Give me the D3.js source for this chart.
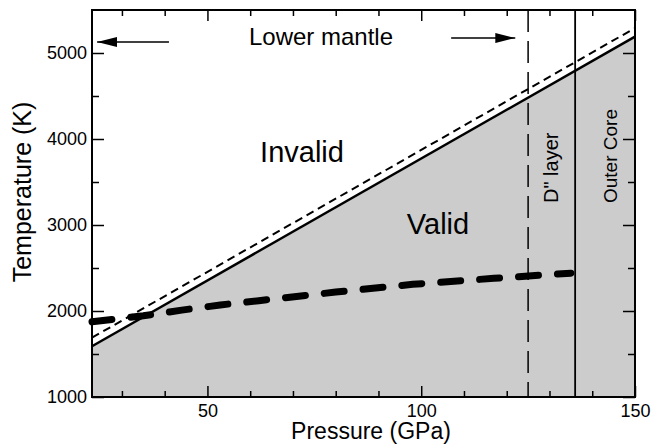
<!DOCTYPE html>
<html>
<head>
<meta charset="utf-8">
<script src="https://cdn.jsdelivr.net/npm/d3@7"></script>
<style>
    body { margin: 0; background: #fff; }
    svg text { font-family: "Liberation Sans", Arial, sans-serif; fill: #000; }
</style>
</head>
<body>
<svg id="chart"></svg>
<script>
// melting curve (solid) and its upper bound (thin dashed)
const meltP = [23, 150];
const meltT = [1590, 5190];
const meltUpperP = [23, 150];
const meltUpperT = [1690, 5290];

// geotherm (thick dashed)
const geoP = [23, 35, 44, 53, 62, 80, 98, 117, 135];
const geoT = [1875, 1945, 2010, 2070, 2120, 2220, 2310, 2380, 2440];

// boundaries
const dLayerP = 125;
const coreP = 136;

// ticks
const xMajor = [50, 100, 150];
const xMinor = [30, 40, 60, 70, 80, 90, 110, 120, 130, 140];
const yMajor = [1000, 2000, 3000, 4000, 5000];
const yMinor = [1500, 2500, 3500, 4500];

// arrows for "Lower mantle" [fromP, toP, T]
const leftArrow = [41, 24.2, 5128];
const rightArrow = [107, 122, 5174];

var w = 651;
var h = 444;
let margin = ({ top: 10, right: 16, bottom: 47, left: 92 });

var svg = d3.select("#chart")
    .attr("width", w)
    .attr("height", h);

var xScale = d3.scaleLinear()
    .domain([23, 150])
    .range([margin.left, w - margin.right]);

var yScale = d3.scaleLinear()
    .domain([1000, 5500])
    .range([h - margin.bottom, margin.top]);

svg.append("defs").append("marker")
    .attr("id", "head")
    .attr("viewBox", "0 0 20 10")
    .attr("refX", 20)
    .attr("refY", 5)
    .attr("markerUnits", "userSpaceOnUse")
    .attr("markerWidth", 20)
    .attr("markerHeight", 10)
    .attr("orient", "auto")
    .append("path")
    .attr("d", "M0,0 L20,5 L0,10 Z")
    .attr("fill", "#000");

const chart = svg.append("g");

var meltData = meltP.map((p, i) => [p, meltT[i]]);
var upperData = meltUpperP.map((p, i) => [p, meltUpperT[i]]);
var geoData = geoP.map((p, i) => [p, geoT[i]]);

// shaded "valid" area below melting curve
chart.append("path")
    .datum(meltData)
    .attr("fill", "#cccccc")
    .attr("d", d3.area()
        .x(d => xScale(d[0]))
        .y0(yScale(1000))
        .y1(d => yScale(d[1])));

var line = d3.line()
    .x(d => xScale(d[0]))
    .y(d => yScale(d[1]));

// D'' boundary and core-mantle boundary
chart.append("line")
    .attr("x1", xScale(dLayerP)).attr("x2", xScale(dLayerP))
    .attr("y1", yScale(5500)).attr("y2", yScale(1000))
    .attr("stroke", "#000")
    .attr("stroke-width", 1.5)
    .attr("stroke-dasharray", "22 9");

chart.append("line")
    .attr("x1", xScale(coreP)).attr("x2", xScale(coreP))
    .attr("y1", yScale(5500)).attr("y2", yScale(1000))
    .attr("stroke", "#000")
    .attr("stroke-width", 1.8);

chart.append("path")
    .datum(upperData)
    .attr("fill", "none")
    .attr("stroke", "#000")
    .attr("stroke-width", 2)
    .attr("stroke-dasharray", "8 5")
    .attr("d", line);

chart.append("path")
    .datum(meltData)
    .attr("fill", "none")
    .attr("stroke", "#000")
    .attr("stroke-width", 2.5)
    .attr("d", line);

chart.append("path")
    .datum(geoData)
    .attr("fill", "none")
    .attr("stroke", "#000")
    .attr("stroke-width", 7)
    .attr("stroke-linecap", "round")
    .attr("stroke-dasharray", "20 19")
    .attr("d", line);

// arrows
[leftArrow, rightArrow].forEach(a => {
    chart.append("line")
        .attr("x1", xScale(a[0])).attr("x2", xScale(a[1]))
        .attr("y1", yScale(a[2])).attr("y2", yScale(a[2]))
        .attr("stroke", "#000")
        .attr("stroke-width", 1.5)
        .attr("marker-end", "url(#head)");
});

// labels inside the plot
chart.append("text")
    .attr("x", 321).attr("y", 45)
    .attr("text-anchor", "middle")
    .style("font-size", "24px")
    .text("Lower mantle");

chart.append("text")
    .attr("x", 302).attr("y", 162)
    .attr("text-anchor", "middle")
    .style("font-size", "29px")
    .text("Invalid");

chart.append("text")
    .attr("x", 438).attr("y", 234)
    .attr("text-anchor", "middle")
    .style("font-size", "29px")
    .text("Valid");

chart.append("text")
    .attr("transform", "translate(558,203) rotate(-90)")
    .style("font-size", "20px")
    .text("D\" layer");

chart.append("text")
    .attr("transform", "translate(617,203) rotate(-90)")
    .style("font-size", "19px")
    .text("Outer Core");

// axes, ticks pointing inward on all four sides
let x0 = margin.left, x1 = w - margin.right, y0 = h - margin.bottom, y1 = margin.top;

function ticks(g, axis, vals, size, labels) {
    g.call(axis.tickValues(vals).tickSize(size).tickSizeOuter(0).tickPadding(labels ? 7 : 0)
        .tickFormat(labels ? d3.format("d") : ""))
        .call(g => g.selectAll(".domain").remove())
        .call(g => g.selectAll("line").attr("stroke-width", 1.5))
        .call(g => g.selectAll("text").style("font-size", "18px").attr("font-family", null));
}

svg.append("g").attr("transform", `translate(0,${y0})`).call(ticks, d3.axisBottom(xScale), xMajor, -11, true);
svg.append("g").attr("transform", `translate(0,${y0})`).call(ticks, d3.axisBottom(xScale), xMinor, -6, false);
svg.append("g").attr("transform", `translate(0,${y1})`).call(ticks, d3.axisTop(xScale), xMajor, -11, false);
svg.append("g").attr("transform", `translate(0,${y1})`).call(ticks, d3.axisTop(xScale), xMinor, -6, false);
svg.append("g").attr("transform", `translate(${x0},0)`).call(ticks, d3.axisLeft(yScale), yMajor, -12, true);
svg.append("g").attr("transform", `translate(${x0},0)`).call(ticks, d3.axisLeft(yScale), yMinor, -7, false);
svg.append("g").attr("transform", `translate(${x1},0)`).call(ticks, d3.axisRight(yScale), yMajor, -12, false);
svg.append("g").attr("transform", `translate(${x1},0)`).call(ticks, d3.axisRight(yScale), yMinor, -7, false);

// y tick labels sit right next to the frame
svg.selectAll(".tick text")
    .each(function () {
        let t = d3.select(this);
        if (t.attr("x") && +t.attr("x") < 0) t.attr("x", -5);
    });

// frame
svg.append("rect")
    .attr("x", x0).attr("y", y1)
    .attr("width", x1 - x0).attr("height", y0 - y1)
    .attr("fill", "none")
    .attr("stroke", "#000")
    .attr("stroke-width", 2);

// axis titles
svg.append("text")
    .attr("x", 371).attr("y", 439)
    .attr("text-anchor", "middle")
    .style("font-size", "23px")
    .text("Pressure (GPa)");

svg.append("text")
    .attr("transform", "translate(31,192) rotate(-90)")
    .attr("text-anchor", "middle")
    .style("font-size", "25px")
    .text("Temperature (K)");
</script>
</body>
</html>
